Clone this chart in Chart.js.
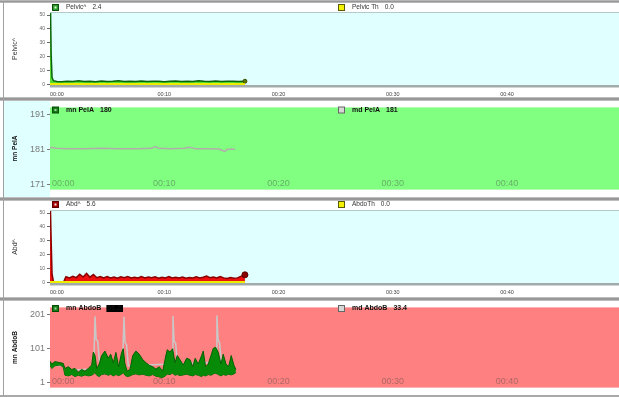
<!DOCTYPE html>
<html>
<head>
<meta charset="utf-8">
<script src="https://cdn.jsdelivr.net/npm/chart.js@4.4.1/dist/chart.umd.min.js"></script>
<style>
  html, body { margin: 0; padding: 0; background: #fff; }
  #wrap { position: relative; width: 619px; height: 397px; overflow: hidden; background: #fff; }
  #wrap canvas { position: absolute; left: 0; display: block; }
  .rule { position: absolute; left: 0; width: 619px; height: 4px;
          background: linear-gradient(#d2d2d2, #989898 35%, #989898 65%, #d2d2d2); }
  .vline { position: absolute; left: 3px; top: 1px; width: 1px; height: 395px; background: #a0a0a0; }
</style>
</head>
<body>
<div id="wrap">
  <canvas id="pelvic" width="619" height="94" style="top:3px"></canvas>
  <canvas id="pela" width="619" height="97" style="top:100px"></canvas>
  <canvas id="abd" width="619" height="97" style="top:200px"></canvas>
  <canvas id="abdob" width="619" height="95" style="top:300px"></canvas>
  <div class="rule" style="top:0px;height:3px"></div>
  <div class="rule" style="top:97px"></div>
  <div class="rule" style="top:197px"></div>
  <div class="rule" style="top:297px"></div>
  <div class="rule" style="top:395px;height:2px"></div>
  <div class="vline"></div>
</div>
<script>
// ---- session time axis (minutes) ----
const timeTicks = [0, 10, 20, 30, 40];
const timeLabels = ['00:00', '00:10', '00:20', '00:30', '00:40'];
const timeMax = 49.8;

// ---- pelvic EMG ----
const emgTicks = [0, 10, 20, 30, 40, 50];
const pelvicTimes = [0, 0.05, 0.1, 0.18, 0.3, 0.6, 1.0, 1.5, 2.0, 2.5, 3.0, 3.5, 4.0, 4.5, 5.0,
  5.5, 6.0, 6.5, 7.0, 7.5, 8.0, 8.5, 9.0, 9.5, 10.0, 10.5, 11.0, 11.5, 12.0, 12.5, 13.0, 13.5,
  14.0, 14.5, 15.0, 15.5, 16.0, 16.5, 17.06];
const pelvicValues = [51.8, 51.5, 22.0, 5.0, 2.8, 2.3, 2.1, 2.5, 2.2, 2.7, 2.3, 2.5, 2.1, 2.6, 2.3,
  2.4, 2.8, 2.2, 2.5, 2.3, 2.6, 2.2, 2.4, 2.5, 2.1, 2.4, 2.6, 2.3, 2.5, 2.2, 2.7, 2.4,
  2.3, 2.6, 2.2, 2.5, 2.4, 2.3, 2.4];
const pelvicThreshold = 0.0;

// ---- pelvic pressure ----
const pelATicks = [171, 181, 191];
const pelATimes = [0, 0.17, 0.5, 1.5, 3.0, 4.5, 6.0, 7.5, 8.9, 9.1, 9.3, 9.5, 10.5, 11.8, 12.1,
  12.4, 12.7, 13.8, 14.8, 15.15, 15.31, 15.5, 16.19];
const pelAMedian = [181.3, 181.6, 181.3, 181.2, 181.2, 181.3, 181.2, 181.2, 181.3, 181.7, 181.7,
  181.3, 181.2, 181.3, 181.6, 181.5, 181.2, 181.2, 181.1, 180.6, 180.4, 181.0, 181.0];
const pelAMean = 180;

// ---- abdominal EMG ----
const abdTimes = [0, 0.04, 0.1, 0.18, 0.3, 0.6, 0.9, 1.2, 1.3,
  1.4, 1.7, 2.0, 2.3, 2.6, 2.9, 3.2, 3.5, 3.8, 4.1, 4.4, 4.7, 5.0, 5.3, 5.6, 5.9, 6.2, 6.5, 6.8,
  7.1, 7.4, 7.7, 8.0, 8.3, 8.6, 8.9, 9.2, 9.5, 9.8, 10.1, 10.4, 10.7, 11.0, 11.3, 11.6, 11.9,
  12.2, 12.5, 12.8, 13.1, 13.4, 13.7, 14.0, 14.3, 14.6, 14.9, 15.2, 15.5, 15.8, 16.1, 16.4,
  16.7, 17.06];
const abdValues = [52.0, 51.6, 30.0, 6.0, 0.8, 0.5, 0.6, 0.4, 2.5,
  4.2, 3.4, 4.6, 3.6, 6.0, 4.0, 6.6, 3.9, 5.8, 3.5, 4.3, 3.3, 4.4, 3.4, 4.0, 3.1, 4.2, 3.5, 4.3,
  3.3, 3.9, 3.4, 4.4, 3.3, 4.0, 3.5, 4.2, 3.1, 3.9, 3.4, 4.3, 3.3, 3.8, 3.4, 4.0, 3.1,
  3.6, 3.3, 4.2, 3.4, 3.8, 4.7, 3.5, 4.0, 3.3, 4.4, 3.4, 3.0, 3.6, 3.1, 3.4,
  4.5, 5.6];
const abdThreshold = 0.0;

// ---- abdominal pressure ----
const abdoBTicks = [1, 101, 201];
const abdoBTimes = [0, 0.15, 0.44, 0.87, 1.16, 1.31, 1.60, 1.90, 2.19, 2.48,
  2.77, 3.06, 3.35, 3.65, 3.79, 3.94, 4.09, 4.31, 4.52, 4.81,
  5.10, 5.31, 5.54, 5.77, 6.01, 6.27, 6.41, 6.56, 6.76, 7.00,
  7.24, 7.52, 7.81, 8.11, 8.40, 8.69, 8.99, 9.27, 9.56, 9.86,
  10.09, 10.26, 10.50, 10.73, 10.94, 11.14, 11.37, 11.66, 11.96, 12.25,
  12.49, 12.71, 12.97, 13.27, 13.41, 13.62, 13.85, 14.09, 14.29, 14.50,
  14.72, 14.96, 15.16, 15.40, 15.63, 15.86, 16.10, 16.27];
const abdoBHigh = [63, 55, 62, 59, 57, 42, 47, 39, 42, 31,
  39, 34, 42, 52, 90, 80, 42, 55, 80, 93,
  72, 84, 59, 89, 47, 89, 100, 55, 34, 39,
  80, 93, 84, 68, 59, 51, 47, 40, 47, 34,
  72, 97, 90, 100, 59, 80, 68, 52, 72, 68,
  47, 72, 55, 80, 93, 47, 55, 80, 101, 104,
  90, 55, 84, 55, 47, 80, 51, 39];
const abdoBLow = [52, 42, 50, 52, 46, 22, 20, 24, 18, 22,
  19, 23, 20, 22, 25, 30, 22, 18, 24, 26,
  22, 25, 20, 24, 21, 25, 30, 22, 18, 20,
  24, 26, 23, 25, 22, 20, 24, 19, 17, 15,
  20, 25, 24, 28, 22, 24, 21, 23, 25, 22,
  20, 24, 22, 18, 22, 20, 24, 22, 26, 28,
  24, 20, 24, 22, 25, 23, 26, 30];
const abdoBMedTimes = [0, 1.15, 1.3, 3.65, 3.85, 3.94, 4.04, 4.18, 4.33, 6.2, 6.38, 6.47, 6.57,
  6.70, 6.85, 10.58, 10.68, 10.76, 10.86, 11.0, 11.15, 14.42, 14.53, 14.61, 14.71, 14.84, 15.0, 16.25];
const abdoBMedian = [52, 50, 35, 40, 75, 195, 128, 122, 60, 55, 85, 194, 118,
  112, 50, 55, 90, 196, 122, 116, 55, 60, 95, 198, 125, 118, 60, 33.4];
const abdoBMean = 36.2;

Chart.defaults.font.family = "'Liberation Sans', Arial, sans-serif";

function pts(times, values) {
  return times.map((t, i) => ({ x: t, y: values[i] }));
}
function last(arr) { return arr[arr.length - 1]; }

// Background, frame, time labels and header legend for one strip
function decor(cfg) {
  return {
    id: 'decor',
    beforeDraw(chart) {
      const { ctx, chartArea: a, height } = chart;
      ctx.save();
      if (cfg.sideColor) {
        ctx.fillStyle = cfg.sideColor;
        ctx.fillRect(4, 0, a.left - 4, height);
      }
      ctx.fillStyle = cfg.plotColor;
      ctx.fillRect(a.left, a.top, a.right - a.left, a.bottom - a.top);
      ctx.restore();
    },
    afterDraw(chart) {
      const { ctx, chartArea: a } = chart;
      const xs = chart.scales.x;
      ctx.save();
      if (cfg.frame) {
        ctx.fillStyle = '#b2caca';
        ctx.fillRect(a.left, a.top, a.right - a.left, 1);
        ctx.fillStyle = '#a2aaaa';
        ctx.fillRect(a.left, a.bottom - 1, a.right - a.left, 2);
        ctx.fillStyle = '#d0d6d6';
        ctx.fillRect(a.left, a.bottom + 1, a.right - a.left, 1);
      }
      // time labels, centred on their ticks but kept inside the plot
      ctx.font = cfg.timeFont;
      ctx.fillStyle = cfg.timeColor;
      ctx.textBaseline = 'middle';
      ctx.textAlign = 'left';
      timeTicks.forEach((v, i) => {
        const label = timeLabels[i];
        const w = ctx.measureText(label).width;
        const px = xs.getPixelForValue(v);
        const x = Math.max(px - w / 2, a.left + cfg.timeInset);
        ctx.fillText(label, x, a.bottom + cfg.timeDy);
      });
      // legend entries
      cfg.legend.forEach(item => {
        const s = 7, cy = cfg.legendY;
        const mx = item.x, my = cy - s / 2;
        ctx.fillStyle = item.edge;
        ctx.fillRect(mx, my, s, s);
        ctx.fillStyle = item.fill;
        ctx.fillRect(mx + 1, my + 1, s - 2, s - 2);
        if (item.dot) {
          ctx.fillStyle = item.dot;
          ctx.fillRect(mx + 2.5, my + 2.5, 2, 2);
        }
        ctx.font = cfg.legendFont;
        ctx.textBaseline = 'middle';
        ctx.fillStyle = cfg.legendColor;
        const tx = mx + 14;
        ctx.fillText(item.name, tx, cy);
        const vx = tx + ctx.measureText(item.name).width + 6;
        if (item.masked) {
          const vw = ctx.measureText(item.value).width;
          ctx.fillStyle = '#000';
          ctx.fillRect(vx - 1, cy - 3.5, vw + 3, 7);
        }
        ctx.fillStyle = cfg.legendColor;
        ctx.fillText(item.value, vx, cy);
      });
      ctx.restore();
    }
  };
}

function makePanel(id, o) {
  return new Chart(document.getElementById(id), {
    type: 'line',
    data: { datasets: o.datasets },
    options: {
      responsive: false,
      animation: false,
      devicePixelRatio: 1,
      events: [],
      layout: { autoPadding: false, padding: { top: o.padTop, left: 0, right: 0, bottom: 0 } },
      plugins: { legend: { display: false }, tooltip: { enabled: false } },
      elements: { point: { radius: 0 }, line: { tension: 0 } },
      scales: {
        x: {
          type: 'linear', min: 0, max: timeMax,
          ticks: { display: false },
          grid: { display: false, drawTicks: false },
          border: { display: false },
          afterFit: s => { s.height = o.xHeight; }
        },
        y: {
          type: 'linear', min: o.yMin, max: o.yMax,
          afterBuildTicks: s => { s.ticks = o.yTicks.map(v => ({ value: v })); },
          afterFit: s => { s.width = 50; },
          ticks: { font: o.yFont, color: o.yColor, padding: 2, autoSkip: false },
          grid: { drawOnChartArea: false, drawTicks: true, tickLength: 3, color: o.yColor },
          border: { display: false },
          title: {
            display: true, text: o.yTitle, font: o.titleFont, color: o.titleColor,
            padding: { top: 11, bottom: 0 }
          }
        }
      }
    },
    plugins: [decor(o.decor)]
  });
}

const smallTime = { timeFont: '5.5px "Liberation Sans", Arial, sans-serif', timeColor: '#444', timeDy: 8, timeInset: 0 };
const bigTime = { timeFont: '9px "Liberation Sans", Arial, sans-serif', timeColor: 'rgba(70,70,70,0.45)', timeDy: -6, timeInset: 2 };

// Pelvic EMG strip
makePanel('pelvic', {
  padTop: 9, xHeight: 11, yMin: -1, yMax: 52.2, yTicks: emgTicks,
  yFont: { size: 5 }, yColor: '#666',
  yTitle: 'Pelvic^', titleFont: { size: 7 }, titleColor: '#333',
  datasets: [
    { data: [{ x: 0, y: pelvicThreshold }, { x: last(pelvicTimes), y: pelvicThreshold }],
      borderColor: '#eded00', borderWidth: 3, fill: false, order: 0 },
    { data: pts(pelvicTimes, pelvicValues), borderColor: '#0a640a', borderWidth: 1.5,
      backgroundColor: '#55dd33', fill: 'origin', order: 1,
      pointRadius: c => (c.dataIndex === pelvicValues.length - 1 ? 2 : 0),
      pointBackgroundColor: '#5a7a00', pointBorderColor: '#3a5000', pointBorderWidth: 1 }
  ],
  decor: Object.assign({}, smallTime, {
    plotColor: '#e0ffff', frame: true, legendY: 4.5,
    legendFont: '6.5px "Liberation Sans", Arial, sans-serif', legendColor: '#333',
    legend: [
      { x: 52, edge: '#0b4f0b', fill: '#2a9a2a', dot: '#e6ffe6', name: 'Pelvic^', value: last(pelvicValues).toFixed(1) },
      { x: 338, edge: '#5a5a00', fill: '#f2f200', name: 'Pelvic Th', value: pelvicThreshold.toFixed(1) }
    ]
  })
});

// Pelvic pressure strip
makePanel('pela', {
  padTop: 2, xHeight: 1, yMin: 169.5, yMax: 193, yTicks: pelATicks,
  yFont: { size: 9 }, yColor: '#7a7a7a',
  yTitle: 'mn PelA', titleFont: { size: 6.5, weight: 'bold' }, titleColor: '#111',
  datasets: [
    { data: pts(pelATimes, pelAMedian), borderColor: '#b4acac', borderWidth: 1.5, fill: false }
  ],
  decor: Object.assign({}, bigTime, {
    plotColor: '#80ff80', sideColor: '#e0ffff', frame: false, legendY: 10,
    legendFont: 'bold 7px "Liberation Sans", Arial, sans-serif', legendColor: '#111',
    legend: [
      { x: 52, edge: '#004d00', fill: '#1a7a1a', dot: '#9ad89a', name: 'mn PelA', value: String(pelAMean) },
      { x: 338, edge: '#666', fill: '#d6d6d6', name: 'md PelA', value: String(Math.round(last(pelAMedian))) }
    ]
  })
});

// Abdominal EMG strip
makePanel('abd', {
  padTop: 10, xHeight: 13, yMin: -1, yMax: 52.2, yTicks: emgTicks,
  yFont: { size: 5 }, yColor: '#666',
  yTitle: 'Abd^', titleFont: { size: 7 }, titleColor: '#333',
  datasets: [
    { data: [{ x: 0, y: abdThreshold }, { x: last(abdTimes), y: abdThreshold }],
      borderColor: '#eded00', borderWidth: 3, fill: false, order: 0 },
    { data: pts(abdTimes, abdValues), borderColor: '#8a0000', borderWidth: 1.5,
      backgroundColor: '#ee1111', fill: 'origin', order: 1,
      pointRadius: c => (c.dataIndex === abdValues.length - 1 ? 3 : 0),
      pointBackgroundColor: '#8a0000', pointBorderColor: '#600000', pointBorderWidth: 1 }
  ],
  decor: Object.assign({}, smallTime, {
    plotColor: '#e0ffff', frame: true, legendY: 4.5,
    legendFont: '6.5px "Liberation Sans", Arial, sans-serif', legendColor: '#333',
    legend: [
      { x: 52, edge: '#5a0000', fill: '#a00000', dot: '#ffe0e0', name: 'Abd^', value: last(abdValues).toFixed(1) },
      { x: 338, edge: '#5a5a00', fill: '#f2f200', name: 'AbdoTh', value: abdThreshold.toFixed(1) }
    ]
  })
});

// Abdominal pressure strip
makePanel('abdob', {
  padTop: 2, xHeight: 1, yMin: -14.4, yMax: 221.5, yTicks: abdoBTicks,
  yFont: { size: 9 }, yColor: '#7a7a7a',
  yTitle: 'mn AbdoB', titleFont: { size: 6.5, weight: 'bold' }, titleColor: '#111',
  datasets: [
    { data: pts(abdoBTimes, abdoBHigh), borderColor: '#036003', borderWidth: 1,
      backgroundColor: '#078a07', fill: '+1', order: 1 },
    { data: pts(abdoBTimes, abdoBLow), borderColor: '#036003', borderWidth: 1, fill: false, order: 2 },
    { data: pts(abdoBMedTimes, abdoBMedian), borderColor: '#c8c8c8', borderWidth: 1.5, fill: false, order: 3 }
  ],
  decor: Object.assign({}, bigTime, {
    plotColor: '#ff8080', frame: false, legendY: 8.5,
    legendFont: 'bold 7px "Liberation Sans", Arial, sans-serif', legendColor: '#111',
    legend: [
      { x: 52, edge: '#004d00', fill: '#1a7a1a', dot: '#9ad89a', name: 'mn AbdoB', value: abdoBMean.toFixed(1), masked: true },
      { x: 338, edge: '#666', fill: '#d6d6d6', name: 'md AbdoB', value: last(abdoBMedian).toFixed(1) }
    ]
  })
});
</script>
</body>
</html>
